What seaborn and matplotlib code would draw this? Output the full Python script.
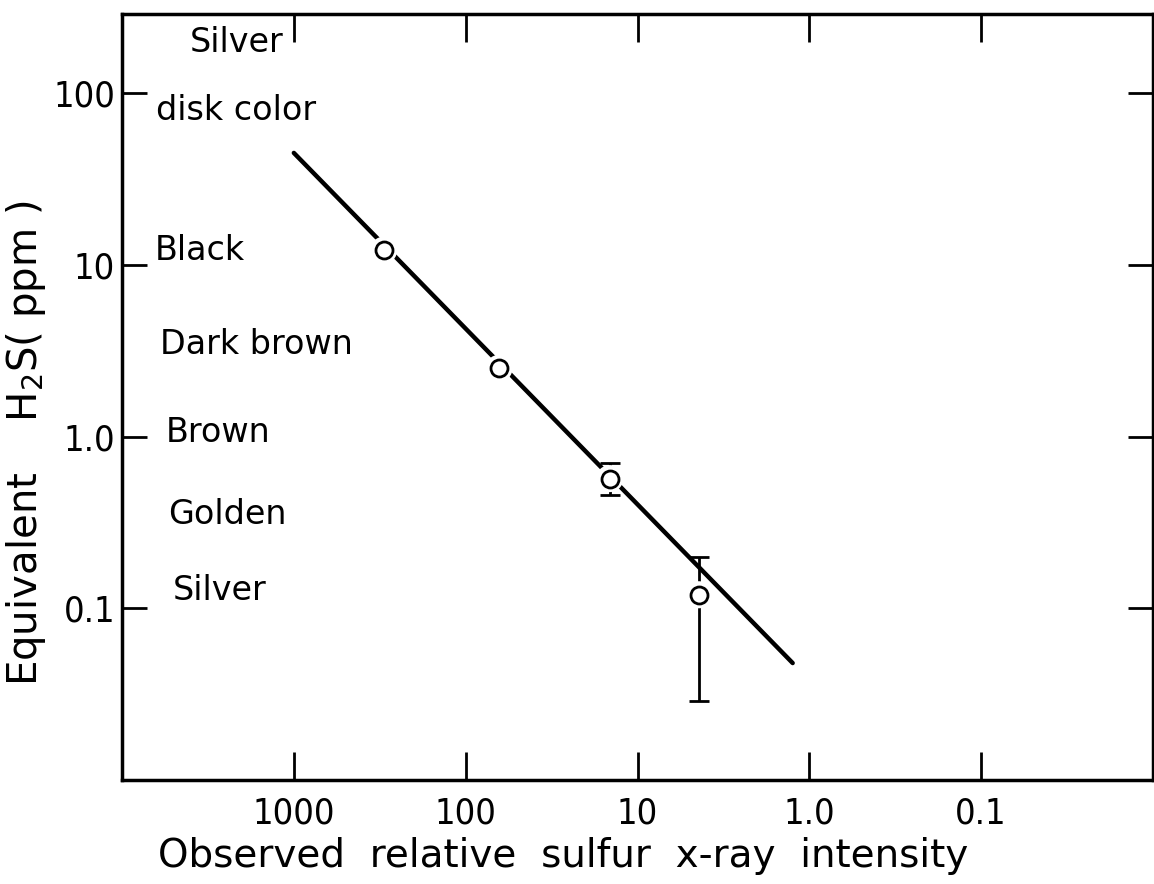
import numpy as np
import pandas as pd
import seaborn as sns
import matplotlib
matplotlib.use("Agg")
import matplotlib.pyplot as plt
from matplotlib import font_manager

# ---- data ----
x_points = [300, 64, 14.5, 4.4]
y_points = [12.2, 2.5, 0.57, 0.12]
err_x = [14.5, 4.4]
err_y = [0.57, 0.12]
err_low = [0.46, 0.029]
err_high = [0.70, 0.20]
fit_x = [1000, 1.25]
fit_y = [45, 0.048]
x_ticks = [1000, 100, 10, 1, 0.1]
x_ticklabels = ["1000", "100", "10", "1.0", "0.1"]
y_ticks = [100, 10, 1, 0.1]
y_ticklabels = ["100", "10", "1.0", "0.1"]
color_labels = ["Black", "Dark brown", "Brown", "Golden", "Silver"]

sns.set_style("ticks")
plt.rcParams['font.family'] = ['DejaVu Sans']
for k in ["text.color", "axes.labelcolor", "xtick.color", "ytick.color"]:
    plt.rcParams[k] = "black"

names = {f.name for f in font_manager.fontManager.ttflist}
cond_files = [f for f in font_manager.fontManager.ttflist
              if f.name == 'DejaVu Sans' and 'ondensed' in f.fname]
if cond_files:
    tick_font = dict(family='DejaVu Sans', stretch='condensed')
elif 'Liberation Sans Narrow' in names:
    tick_font = dict(family='Liberation Sans Narrow')
else:
    tick_font = dict(family='DejaVu Sans')

fig = plt.figure(figsize=(11.54, 8.84), dpi=100)
ax = fig.add_axes([122/1154, 104/884, 1031/1154, 766/884])

df_fit = pd.DataFrame({"x": fit_x, "y": fit_y})
df_pts = pd.DataFrame({"x": x_points, "y": y_points})

sns.lineplot(data=df_fit, x="x", y="y", ax=ax, color="black", lw=3.2,
             solid_capstyle="round", zorder=2)
yerr = np.array([np.array(err_y) - np.array(err_low),
                 np.array(err_high) - np.array(err_y)])
ax.errorbar(err_x, err_y, yerr=yerr, fmt="none", ecolor="black", elinewidth=2,
            capsize=7, capthick=2, zorder=3)
# white halo to produce small gaps in the line around each marker
ax.scatter(x_points, y_points, s=380, color="white", edgecolor="none", zorder=4)
sns.scatterplot(data=df_pts, x="x", y="y", ax=ax, s=150, facecolor="white",
                edgecolor="black", linewidth=2, zorder=5, legend=False)

ax.set_xscale("log")
ax.set_yscale("log")
ax.set_xlim(1e4, 1e-2)
ax.set_ylim(0.01, 290)
ax.minorticks_off()
ax.set_xticks(x_ticks)
ax.set_xticklabels(x_ticklabels, fontsize=26, **tick_font)
ax.set_yticks(y_ticks)
ax.set_yticklabels(y_ticklabels, fontsize=26, **tick_font)
ax.tick_params(axis="x", direction="in", length=20, width=2, pad=12,
               top=True, bottom=True)
ax.tick_params(axis="y", direction="in", length=18, width=2, pad=5,
               left=True, right=True)
for s in ax.spines.values():
    s.set_linewidth(2.5)
    s.set_color("black")

ax.set_xlabel("Observed  relative  sulfur  x-ray  intensity", fontsize=28)
ax.xaxis.set_label_coords(0.428, -0.074)
ax.set_ylabel("Equivalent    H$_2$S( ppm )", fontsize=29)
ax.yaxis.set_label_coords(-0.072, 0.44)

def px(x, y):
    return ((x - 122) / 1031, (780 - y) / 766)

ax.text(*px(237, 42), "Silver", transform=ax.transAxes, fontsize=24,
        ha="center", va="center")
ax.text(*px(236, 110), "disk color", transform=ax.transAxes, fontsize=24,
        ha="center", va="center")
label_pos = [(155, 250), (160, 345), (166, 432), (168, 515), (173, 590)]
for lab, (lx, ly) in zip(color_labels, label_pos):
    ax.text(*px(lx, ly), lab, transform=ax.transAxes, fontsize=24,
            ha="left", va="center")

fig.savefig("out.png", dpi=100)
